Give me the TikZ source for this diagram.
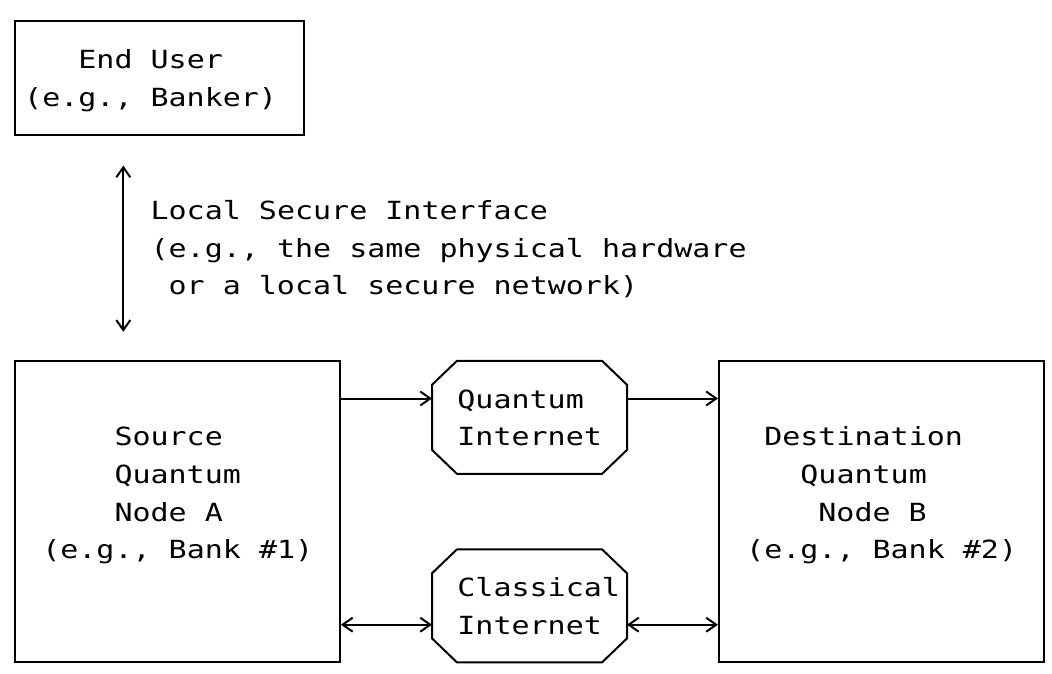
\documentclass[tikz,border=0pt]{standalone}
\usepackage{fontspec}
\newfontfamily\diagmono[FakeStretch=1.2]{DejaVu Sans Mono}
\usetikzlibrary{arrows.meta}
\begin{document}
\begin{tikzpicture}[x=1pt,y=-1pt,
  box/.style={draw, line width=2pt, rectangle, inner sep=0pt},
  netarea/.style={rectangle, inner sep=0pt, outer sep=0pt, minimum width=195pt, minimum height=113.1pt},
  outline/.style={line width=2pt, line join=round},
  txt/.style={font=\diagmono\fontsize{25}{30}\selectfont, inner sep=0pt, anchor=base west},
  arr/.style={line width=2pt, -{Straight Barb[length=10pt,width=14pt]}},
  darr/.style={line width=2pt, {Straight Barb[length=10pt,width=14pt]}-{Straight Barb[length=10pt,width=14pt]}}]

\useasboundingbox[fill=white] (0,0) rectangle (1052,674);

% boxes
\node[box, minimum width=288.8pt, minimum height=113.1pt] (user) at (159.4,78.05) {};
\node[box, minimum width=324.9pt, minimum height=301.6pt] (lbox) at (177.45,511.6) {};
\node[box, minimum width=324.9pt, minimum height=301.6pt] (rbox) at (881.4,511.6) {};

% internet clouds
\node[netarea] (qnet) at (529.5,417.35) {};
\node[netarea] (cnet) at (529.5,605.85) {};
\foreach \n in {qnet,cnet}{
  \draw[outline] ([xshift=25pt]\n.north west) -- ([xshift=-25pt]\n.north east)
    -- ([yshift=-24pt]\n.north east) -- ([yshift=24pt]\n.south east)
    -- ([xshift=-25pt]\n.south east) -- ([xshift=25pt]\n.south west)
    -- ([yshift=24pt]\n.south west) -- ([yshift=-24pt]\n.north west) -- cycle;
}

% row coordinates
\coordinate (c6) at (123.3,0);
\coordinate (r10) at (0,398.5);
\coordinate (r16) at (0,624.7);

% connectors
\draw[darr, shorten <=30pt, shorten >=28pt] (user.south -| c6) -- (lbox.north -| c6);
\draw[arr] (lbox.east |- r10) -- (qnet.west |- r10);
\draw[arr] (qnet.east |- r10) -- (rbox.west |- r10);
\draw[darr] (lbox.east |- r16) -- (cnet.west |- r16);
\draw[darr] (cnet.east |- r16) -- (rbox.west |- r16);

% texts
\node[txt] (u1) at (78.2,68.7) {End User};
\node[txt] (u2) at (24.0,106.4) {(e.g., Banker)};
\node[txt] (i1) at (150.4,219.5) {Local Secure Interface};
\node[txt] (i2) at (150.4,257.2) {(e.g., the same physical hardware};
\node[txt] (i3) at (168.4,294.9) {or a local secure network)};
\node[txt] (q1) at (457.2,408) {Quantum};
\node[txt] (q2) at (457.2,445.7) {Internet};
\node[txt] (k1) at (457.2,596.5) {Classical};
\node[txt] (k2) at (457.2,634.2) {Internet};
\node[txt] (a1) at (114.3,445.7) {Source};
\node[txt] (a2) at (114.3,483.4) {Quantum};
\node[txt] (a3) at (114.3,521.1) {Node A};
\node[txt] (a4) at (42.1,558.8) {(e.g., Bank \#1)};
\node[txt] (b1) at (764.1,445.7) {Destination};
\node[txt] (b2) at (800.2,483.4) {Quantum};
\node[txt] (b3) at (818.2,521.1) {Node B};
\node[txt] (b4) at (746.0,558.8) {(e.g., Bank \#2)};
\end{tikzpicture}
\end{document}
